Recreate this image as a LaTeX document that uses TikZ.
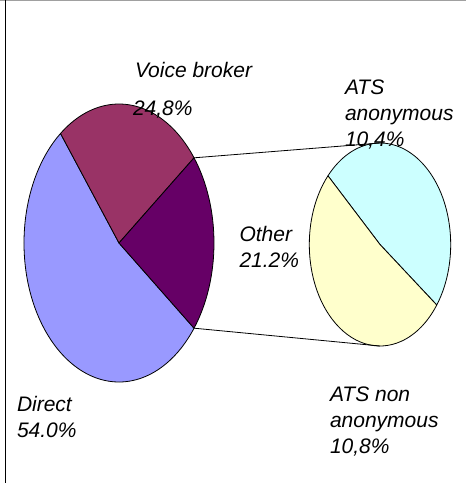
\documentclass[tikz,border=0pt]{standalone}
\usepackage{fontspec}
\setmainfont{Liberation Sans}
\definecolor{direct}{HTML}{9999FF}
\definecolor{voice}{HTML}{993366}
\definecolor{other}{HTML}{660066}
\definecolor{atsa}{HTML}{CCFFFF}
\definecolor{atsn}{HTML}{FFFFCC}
\definecolor{topgray}{HTML}{A0A0A0}
\begin{document}
\begin{tikzpicture}[x=1pt,y=-1pt,
  lbl/.style={anchor=base west,inner sep=0pt,outer sep=0pt,align=left,
    font=\fontsize{21}{26}\selectfont\itshape},
  slice/.style={draw=black,line width=0.8pt,line join=round},
  leader/.style={draw=black,line width=0.8pt}]
\useasboundingbox (0,0) rectangle (466,483);
\fill[white] (0,0) rectangle (466,483);
\draw[topgray,line width=1.5pt] (0,0.5) -- (466,0.5);
\draw[black,line width=1pt] (5.5,0) -- (5.5,483);
% big pie
\begin{scope}[shift={(119,243)},x=95pt,y=139pt]
  \filldraw[slice,fill=direct] (0,0) -- (128:1) arc[start angle=128,end angle=322.2,radius=1] -- cycle;
  \filldraw[slice,fill=voice] (0,0) -- (37.8:1) arc[start angle=37.8,end angle=128,radius=1] -- cycle;
  \filldraw[slice,fill=other] (0,0) -- (-37.8:1) arc[start angle=-37.8,end angle=37.8,radius=1] -- cycle;
  \coordinate (bigtop) at (37.8:1);
  \coordinate (bigbot) at (-37.8:1);
\end{scope}
% small pie
\begin{scope}[shift={(380,244.5)},x=70.7pt,y=101.5pt]
  \filldraw[slice,fill=atsa] (0,0) -- (-36.6:1) arc[start angle=-36.6,end angle=137.4,radius=1] -- cycle;
  \filldraw[slice,fill=atsn] (0,0) -- (137.4:1) arc[start angle=137.4,end angle=323.4,radius=1] -- cycle;
  \coordinate (smalltop) at (90:1);
  \coordinate (smallbot) at (270:1);
\end{scope}
\draw[leader] (bigtop) -- (smalltop);
\draw[leader] (bigbot) -- (smallbot);
% labels
\node[lbl] (voicelbl) at (135,77) {Voice broker};
\node[lbl] (voicepct) at (133,115) {24,8\%};
\node[lbl] (atsalbl) at (345,146) {ATS\\anonymous\\10,4\%};
\node[lbl] (otherlbl) at (239.5,267.5) {Other\\21.2\%};
\node[lbl] (atsnlbl) at (330,453) {ATS non\\anonymous\\10,8\%};
\node[lbl] (directlbl) at (17,437.3) {Direct\\54.0\%};
\end{tikzpicture}
\end{document}
